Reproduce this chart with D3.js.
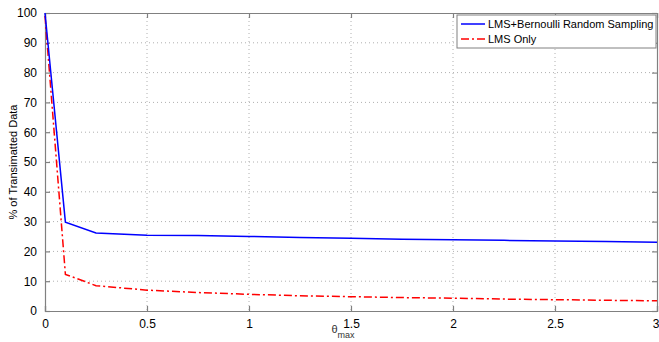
<!DOCTYPE html>
<html>
<head>
<style>
  body { margin: 0; background: #fff; }
  text { font-family: "Liberation Sans", Arial, sans-serif; }
</style>
</head>
<body>
<svg id="chart"></svg>
<script src="https://cdnjs.cloudflare.com/ajax/libs/d3/7.8.5/d3.min.js"></script>
<script>
var thetaMax = [0, 0.1, 0.25, 0.5, 0.75, 1, 1.25, 1.5, 1.75, 2, 2.25, 2.5, 2.75, 3];
var lmsBernoulli = [100, 29.8, 26.2, 25.4, 25.3, 25.0, 24.7, 24.4, 24.1, 23.9, 23.7, 23.5, 23.3, 23.1];
var lmsOnly = [99, 12.3, 8.5, 7.0, 6.2, 5.6, 5.1, 4.8, 4.5, 4.3, 4.0, 3.8, 3.6, 3.4];
var xTicks = [0, 0.5, 1, 1.5, 2, 2.5, 3];
var yTicks = [0, 10, 20, 30, 40, 50, 60, 70, 80, 90, 100];
var seriesNames = ["LMS+Bernoulli Random Sampling", "LMS Only"];

var width = 659, height = 342;
var margin = {top: 13, right: 2, bottom: 31, left: 45};
var w = width - margin.left - margin.right,
    h = height - margin.top - margin.bottom;

var svg = d3.select("#chart")
    .attr("width", width)
    .attr("height", height);

var g = svg.append("g")
    .attr("transform", "translate(" + margin.left + "," + margin.top + ")");

var x = d3.scaleLinear().domain([0, 3]).range([0, w]);
var y = d3.scaleLinear().domain([0, 100]).range([h, 0]);

// grid
g.selectAll(".vgrid").data(xTicks.slice(1, -1)).enter().append("line")
    .attr("x1", d => x(d)).attr("x2", d => x(d))
    .attr("y1", 0).attr("y2", h)
    .attr("stroke", "#b0b0b0").attr("stroke-dasharray", "1,3");
g.selectAll(".hgrid").data(yTicks.slice(1, -1)).enter().append("line")
    .attr("y1", d => y(d)).attr("y2", d => y(d))
    .attr("x1", 0).attr("x2", w)
    .attr("stroke", "#b0b0b0").attr("stroke-dasharray", "1,3");

// axes
var axisColor = "#808080";
var xAxis = g.append("g").attr("transform", "translate(0," + h + ")")
    .call(d3.axisBottom(x).tickValues(xTicks).tickSize(-5).tickPadding(8).tickFormat(d3.format("")));
var xTop = g.append("g")
    .call(d3.axisTop(x).tickValues(xTicks).tickSize(-5).tickFormat(""));
var yAxis = g.append("g")
    .call(d3.axisLeft(y).tickValues(yTicks).tickSize(-5).tickPadding(8));
var yRight = g.append("g").attr("transform", "translate(" + w + ",0)")
    .call(d3.axisRight(y).tickValues(yTicks).tickSize(-5).tickFormat(""));

[xAxis, xTop, yAxis, yRight].forEach(function(a) {
  a.select(".domain").attr("stroke", axisColor).attr("stroke-width", 1.2);
  a.selectAll(".tick line").attr("stroke", axisColor).attr("stroke-width", 1.2);
  a.selectAll("text").attr("fill", "#000").style("font-size", "12px")
    .style("font-family", "'Liberation Sans', Arial, sans-serif");
});
// last x tick label sits at the right edge, keep it inside the picture
xAxis.selectAll(".tick text").filter(d => d === 3).attr("text-anchor", "end").attr("dx", 2);

// lines
var lineGen = function(vals) {
  return d3.line().x((d, i) => x(thetaMax[i])).y(d => y(d))(vals);
};
g.append("path").attr("d", lineGen(lmsOnly))
    .attr("fill", "none").attr("stroke", "#ff0000").attr("stroke-width", 1.5)
    .attr("stroke-dasharray", "8,3,2,3");
g.append("path").attr("d", lineGen(lmsBernoulli))
    .attr("fill", "none").attr("stroke", "#0000ff").attr("stroke-width", 1.5);

// labels
var xl = svg.append("text")
    .attr("x", margin.left + w / 2 - 8).attr("y", 333)
    .attr("text-anchor", "middle").attr("fill", "#333").style("font-size", "11px");
xl.append("tspan").text("\u03b8");
xl.append("tspan").attr("dy", 5).style("font-size", "9px").text("max");

svg.append("text")
    .attr("transform", "translate(17," + (margin.top + h / 2) + ") rotate(-90)")
    .attr("text-anchor", "middle").style("font-size", "11px").attr("fill", "#000")
    .text("% of Transimatted Data");

// legend
var leg = svg.append("g").attr("transform", "translate(457,15)");
leg.append("rect").attr("width", 199).attr("height", 33)
    .attr("fill", "#fff").attr("stroke", axisColor).attr("stroke-width", 1);
var legColors = ["#0000ff", "#ff0000"];
var legDash = [null, "8,3,2,3"];
seriesNames.forEach(function(name, i) {
  var yy = 9 + i * 15;
  leg.append("line").attr("x1", 4).attr("x2", 28).attr("y1", yy).attr("y2", yy)
      .attr("stroke", legColors[i]).attr("stroke-width", 1.5)
      .attr("stroke-dasharray", legDash[i]);
  leg.append("text").attr("x", 31).attr("y", yy + 4)
      .style("font-size", "11px").attr("fill", "#000").text(name);
});
</script>
</body>
</html>
